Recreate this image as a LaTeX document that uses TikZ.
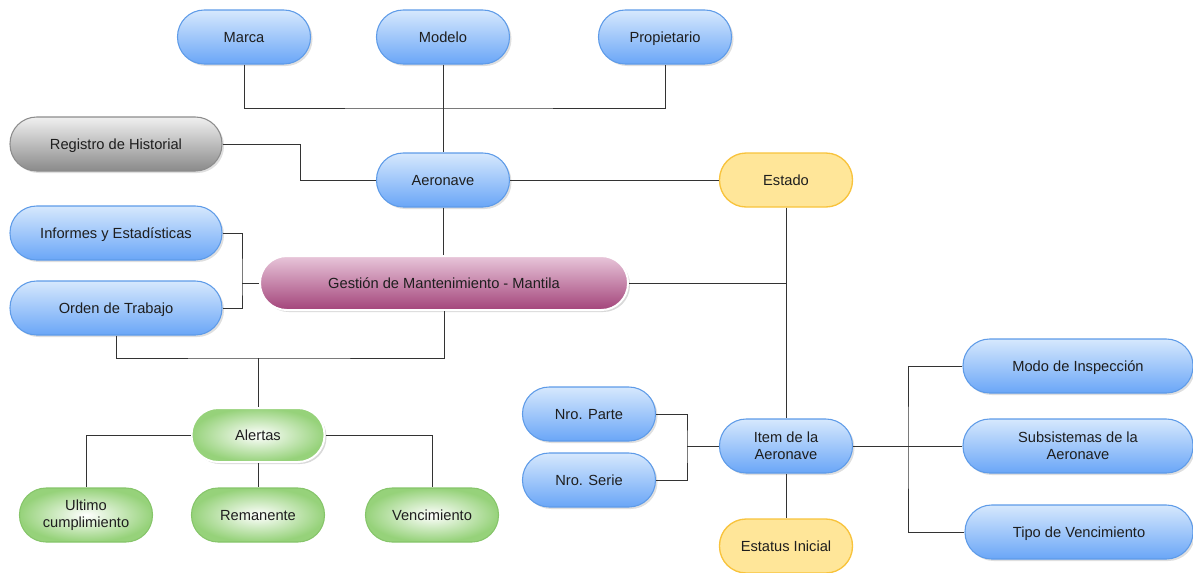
\documentclass[tikz,border=0pt]{standalone}
\usepackage{fontspec}
\setmainfont{Liberation Sans}
\usetikzlibrary{shadows}
\definecolor{bluetop}{HTML}{D6E8FD}
\definecolor{bluebot}{HTML}{6AA6F7}
\definecolor{blueline}{HTML}{5E9BE8}
\definecolor{graytop}{HTML}{F0F0F0}
\definecolor{graybot}{HTML}{8A8A8A}
\definecolor{grayline}{HTML}{8C8C8C}
\definecolor{yelfill}{HTML}{FFE699}
\definecolor{yelline}{HTML}{F8C33C}
\definecolor{greenout}{HTML}{96D27A}
\definecolor{greenline}{HTML}{86C56A}
\definecolor{purtop}{HTML}{E8C6DA}
\definecolor{purbot}{HTML}{A3447A}
\definecolor{wire}{HTML}{333333}
\definecolor{txt}{HTML}{1E1E1E}
\tikzset{
  base/.style={rectangle, rounded corners=20pt, minimum width=99.75pt, minimum height=40.5pt,
    align=center, text=txt, font=\fontsize{11}{12.5}\selectfont, line width=0.8pt, inner sep=2pt},
  sl/.style={text height=7.9pt, text depth=0pt},
  bluebox/.style={base, draw=blueline, top color=bluetop, bottom color=bluebot,
    drop shadow={opacity=0.25, shadow xshift=1.5pt, shadow yshift=-1.5pt}},
  graybox/.style={base, draw=grayline, top color=graytop, bottom color=graybot,
    drop shadow={opacity=0.25, shadow xshift=1.5pt, shadow yshift=-1.5pt}},
  yelbox/.style={base, draw=yelline, fill=yelfill, line width=1pt},
  greenbox/.style={base, draw=greenline, inner color=white, outer color=greenout},
  greenmain/.style={base, draw=white, line width=1.5pt, inner color=white, outer color=greenout,
    drop shadow={opacity=0.3, shadow xshift=1.5pt, shadow yshift=-1.5pt}},
  purbox/.style={base, draw=white, line width=1.5pt, top color=purtop, bottom color=purbot,
    drop shadow={opacity=0.3, shadow xshift=1.5pt, shadow yshift=-1.5pt}},
  conn/.style={draw=wire, line width=0.75pt},
}
\begin{document}
\begin{tikzpicture}[x=0.75pt,y=-0.75pt]
\useasboundingbox (0,0) rectangle (1193,572);
% top row
\node[bluebox, sl] (marca) at (244,37) {Marca};
\node[bluebox, sl] (modelo) at (443,37) {Modelo};
\node[bluebox, sl] (prop) at (665,37) {Propietario};
% left column
\node[graybox, sl, minimum width=159pt] (reg) at (116,144) {Registro de Historial};
\node[bluebox, sl, minimum width=159pt] (inf) at (116,233) {Informes y Estadísticas};
\node[bluebox, sl, minimum width=159pt] (orden) at (116,308) {Orden de Trabajo};
% center
\node[bluebox, sl] (aero) at (443,180) {Aeronave};
\node[yelbox, sl] (estado) at (786,180) {Estado};
\node[purbox, sl, minimum width=276pt] (gest) at (444,283) {Gestión de Mantenimiento - Mantila};
% alerts
\node[greenmain, sl] (alertas) at (258,435) {Alertas};
\node[greenbox] (ultimo) at (86,515) {Ultimo\\cumplimiento};
\node[greenbox, sl] (reman) at (258,515) {Remanente};
\node[greenbox, sl] (venc) at (432,515) {Vencimiento};
% item
\node[bluebox, sl] (parte) at (589,414) {Nro. Parte};
\node[bluebox, sl] (serie) at (589,480) {Nro. Serie};
\node[bluebox] (item) at (786,446) {Item de la\\Aeronave};
\node[yelbox, sl] (estatus) at (786,546) {Estatus Inicial};
\node[bluebox, sl, minimum width=172.5pt] (modo) at (1078,366) {Modo de Inspección};
\node[bluebox, minimum width=172.5pt] (subs) at (1078,446) {Subsistemas de la\\Aeronave};
\node[bluebox, sl, minimum width=171pt] (tipo) at (1079,532) {Tipo de Vencimiento};
% junctions
\coordinate (jtop) at (443,108);
\coordinate (jreg) at (300,144);
\coordinate (jinf) at (242,283);
\coordinate (jbot) at (258,358);
\coordinate (jparte) at (687,446);
\coordinate (jright) at (908,446);
% connectors
\draw[conn] (marca.south) |- (jtop) -| (prop.south);
\draw[conn] (modelo.south) -- (aero.north);
\draw[conn] (reg.east) -- (jreg) |- (aero.west);
\draw[conn] (aero.east) -- (estado.west);
\draw[conn] (estado.south) -- (item.north);
\draw[conn] (aero.south) -- (gest.north -| aero.south);
\draw[conn] (inf.east) -| (jinf) |- (orden.east);
\draw[conn] (jinf) -- (gest.west);
\draw[conn] (gest.east) -- (gest.east -| estado.south);
\draw[conn] (orden.south) |- (jbot) -| (gest.south);
\draw[conn] (jbot) -- (alertas.north);
\draw[conn] (alertas.west) -| (ultimo.north);
\draw[conn] (alertas.south) -- (reman.north);
\draw[conn] (alertas.east) -| (venc.north);
\draw[conn] (parte.east) -| (jparte) |- (serie.east);
\draw[conn] (jparte) -- (item.west);
\draw[conn] (item.south) -- (estatus.north);
\draw[conn] (item.east) -- (subs.west);
\draw[conn] (modo.west) -| (jright) |- (tipo.west);
\end{tikzpicture}
\end{document}
